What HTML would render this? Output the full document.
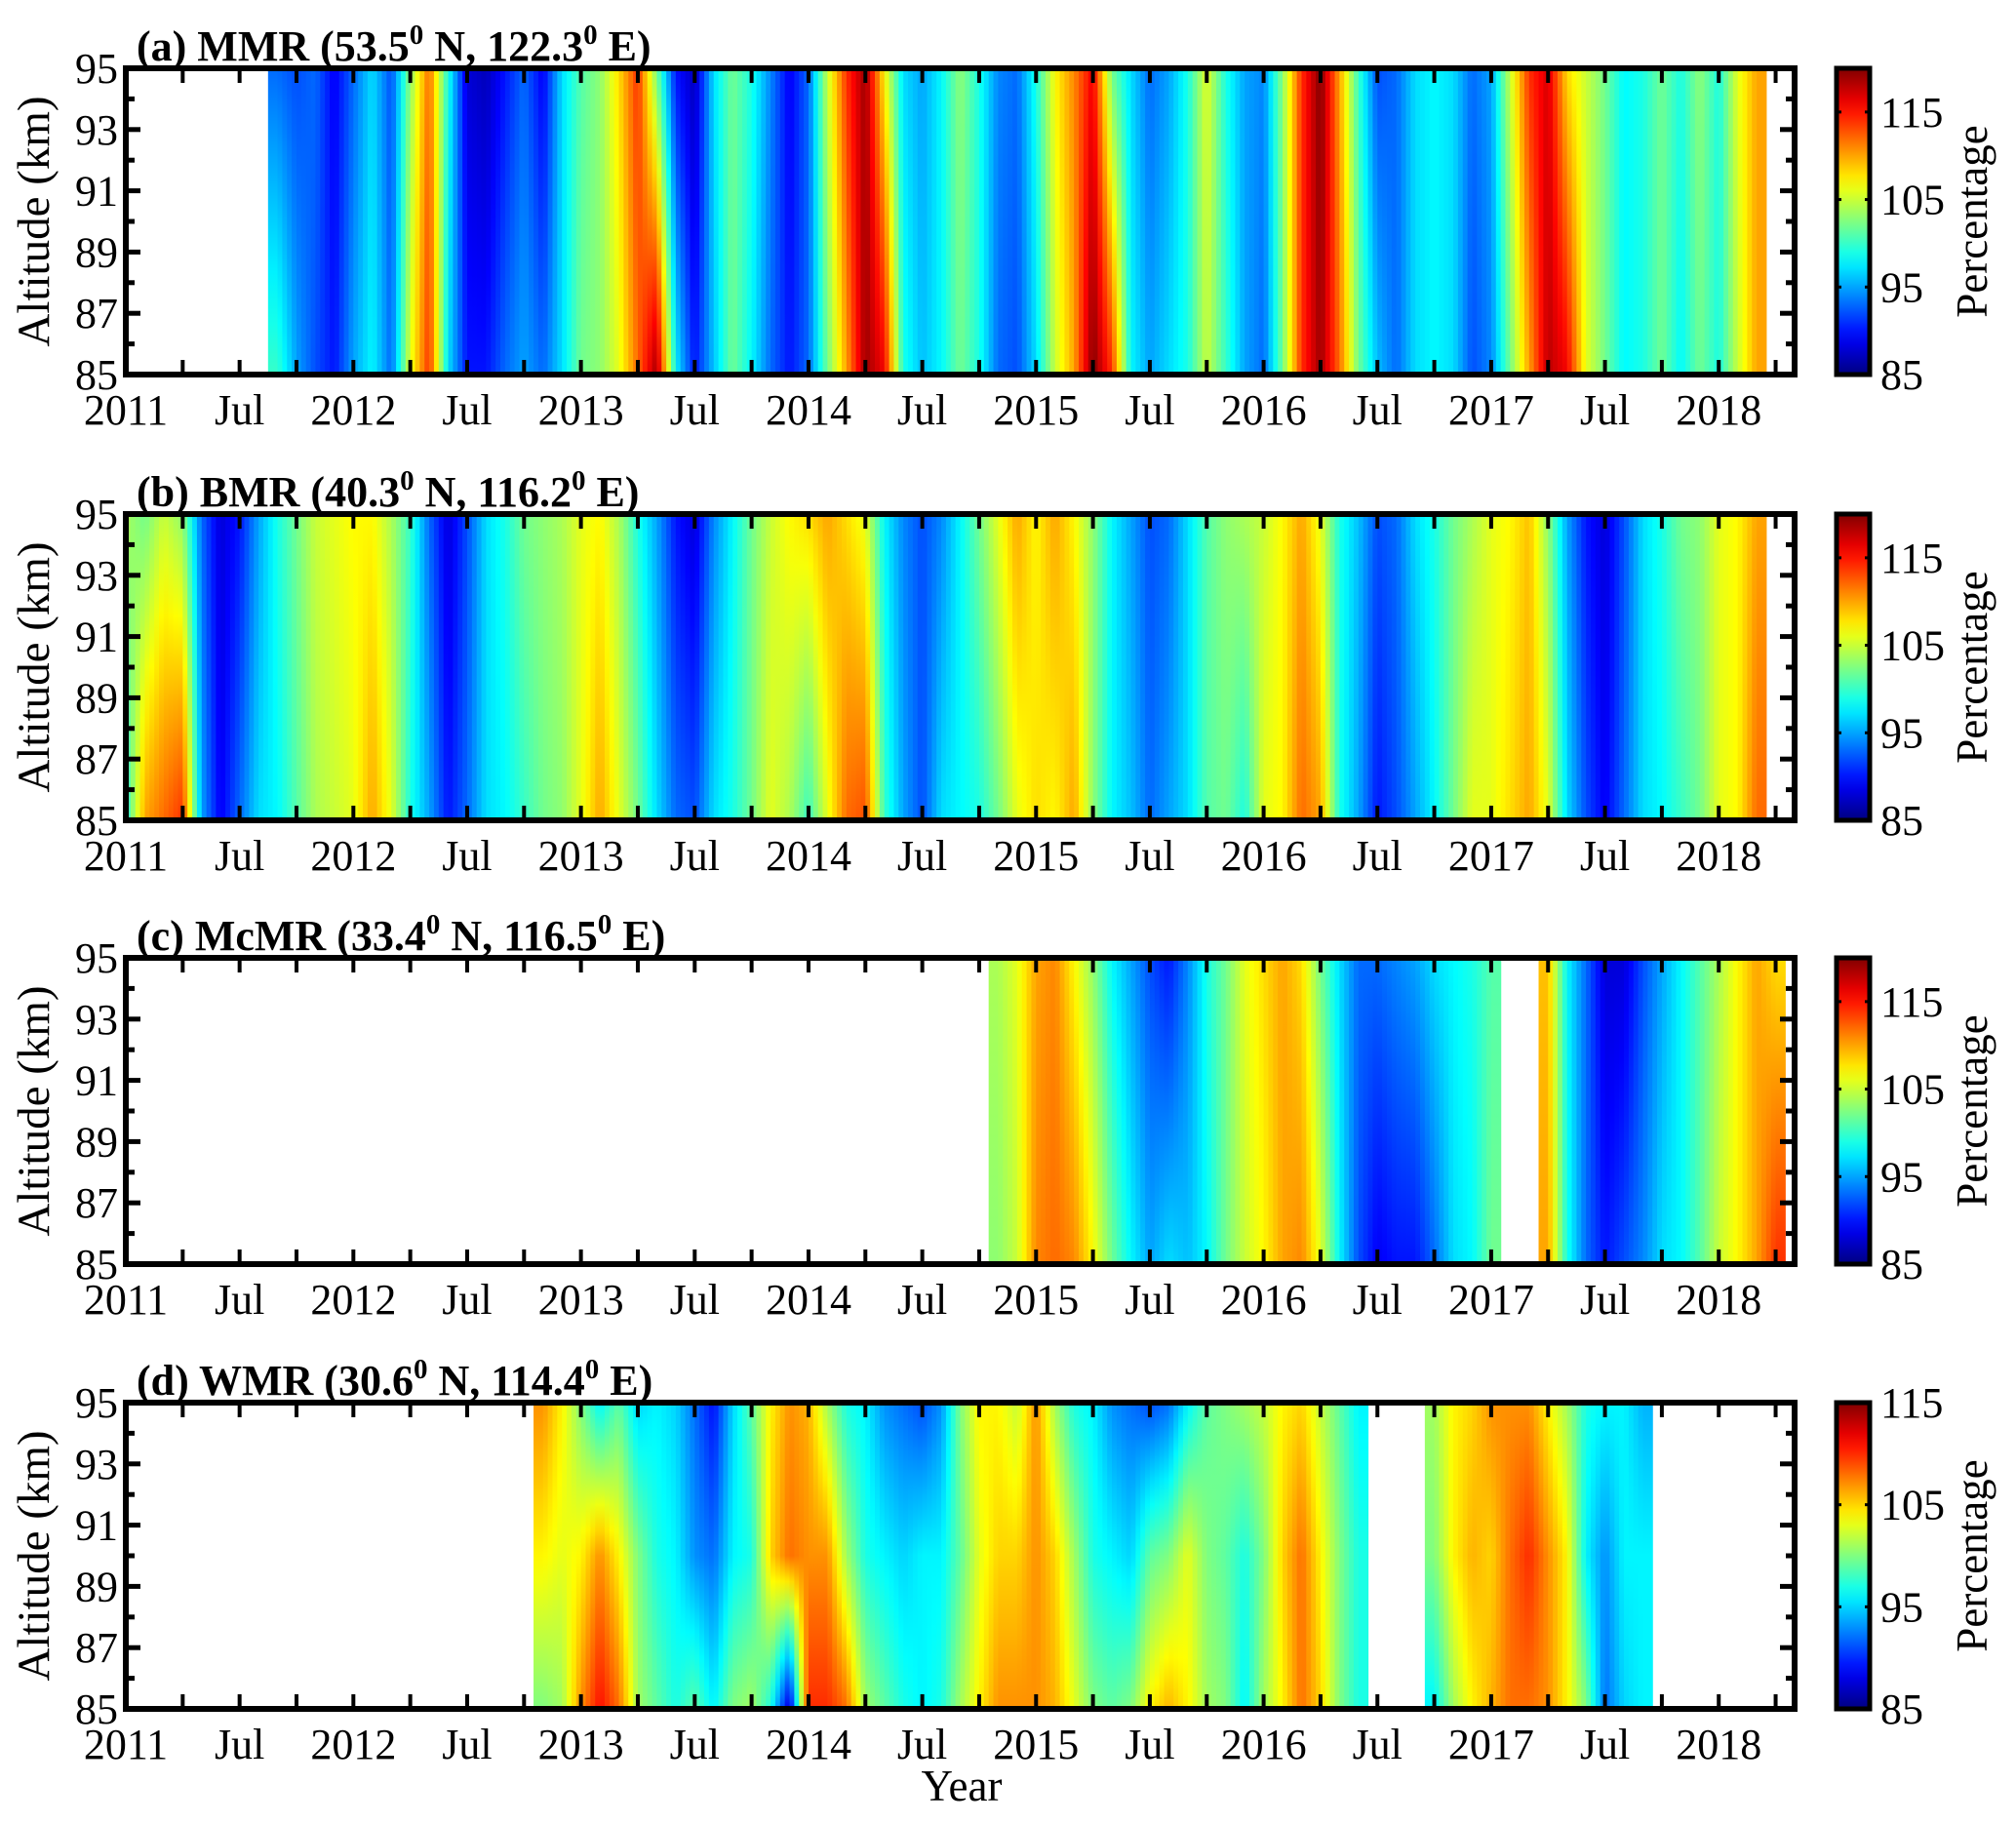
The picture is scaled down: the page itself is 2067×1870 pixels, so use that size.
<!DOCTYPE html>
<html><head><meta charset="utf-8"><style>
html,body{margin:0;padding:0;background:#fff}
svg{display:block}
text{font-family:"Liberation Serif",serif;fill:#000}
</style></head><body>
<svg id="fig" width="2067" height="1870" viewBox="0 0 2067 1870" xmlns="http://www.w3.org/2000/svg">
<defs id="defs"></defs>
<g id="root"></g>
<text x="986" y="1846" font-size="45" text-anchor="middle">Year</text>
</svg>
<script>
// ---- data: monthly samples (index 0 = Jan 2011), values in percentage ----
const months = Array.from({length: 89}, (_, i) => i);
const yearLabels = ["2011","Jul","2012","Jul","2013","Jul","2014","Jul","2015","Jul","2016","Jul","2017","Jul","2018"];
const altTicks = [85, 87, 89, 91, 93, 95];
const cbTicksA = [85, 95, 105, 115];
const cbTicksD = [85, 95, 105, 115];
const titles = ["(a) MMR (53.5", "(b) BMR (40.3", "(c) McMR (33.4", "(d) WMR (30.6"];
const titleLon = [" N, 122.3", " N, 116.2", " N, 116.5", " N, 114.4"];

const a95 = {8:93,9:92,10:93,11:89,12:93,13:97,14:92,15:103,16:112,17:99,18:88,19:87,20:90,21:93,22:89,23:97,24:101,25:103,26:108,27:114,28:102,29:90,30:87,31:97,32:102,33:99,34:94,35:89,36:93,37:105,38:114,39:119,40:107,41:97,42:95,43:98,44:103,45:99,46:94,47:93,48:99,49:107,50:111,51:116,52:102,53:97,54:93,55:95,56:99,57:106,58:99,59:95,60:94,61:103,62:114,63:120,64:110,65:100,66:92,67:93,68:97,69:98,70:97,71:93,72:95,73:105,74:114,75:117,76:108,77:105,78:102,79:98,80:99,81:102,82:99,83:103,84:99,85:106,86:110};
const a85 = {8:100,9:95,10:92,11:90,12:95,13:98,14:93,15:106,16:114,17:97,18:90,19:90,20:93,21:95,22:93,23:97,24:102,25:103,26:106,27:112,28:119,29:98,30:90,31:96,32:102,33:98,34:93,35:90,36:93,37:102,38:110,39:119,40:116,41:99,42:96,43:98,44:102,45:99,46:93,47:92,48:97,49:105,50:110,51:120,52:114,53:98,54:95,55:97,56:99,57:105,58:100,59:95,60:93,61:102,62:114,63:119,64:112,65:102,66:96,67:93,68:97,69:98,70:97,71:92,72:94,73:102,74:110,75:118,76:116,77:106,78:102,79:98,80:99,81:102,82:98,83:102,84:99,85:105,86:110};

const b95 = [104,102,105,103,93,88,90,95,99,102,105,106,107,107,104,100,93,88,92,97,99,102,103,104,106,107,104,99,95,90,88,94,98,102,105,107,108,110,108,106,98,94,92,94,98,102,106,110,107,110,107,103,98,95,92,93,97,101,103,104,105,107,110,106,99,96,92,93,97,99,102,104,106,107,109,103,95,90,88,92,97,99,102,103,106,107,110];
const b85 = [99,110,112,114,95,89,93,97,98,101,104,105,106,110,106,99,95,90,93,97,98,100,102,103,106,110,106,102,97,93,92,97,99,102,106,104,100,106,112,113,100,95,92,97,98,99,102,106,108,107,110,103,98,96,93,95,97,101,102,99,106,107,112,110,99,95,90,92,95,98,102,106,106,108,110,106,97,92,89,93,97,98,100,102,106,107,112];

const c95 = {46:104,47:106,48:110,49:111,50:107,51:103,52:98,53:95,54:92,55:90,56:94,57:99,58:102,59:106,60:108,61:110,62:108,63:102,64:97,65:93,66:93,67:94,68:95,69:97,70:98,71:99,72:101,75:109,76:98,77:93,78:88,79:88,80:92,81:95,82:98,83:101,84:104,85:107,86:110,87:108};
const c85 = {46:103,47:105,48:111,49:112,50:111,51:107,52:102,53:98,54:95,55:97,56:96,57:98,58:102,59:105,60:107,61:110,62:111,63:106,64:98,65:92,66:89,67:90,68:90,69:93,70:97,71:98,72:102,75:110,76:99,77:93,78:90,79:92,80:94,81:97,82:98,83:101,84:105,85:107,86:110,87:114};

const d95 = {22:107,23:104,24:100,25:96,26:99,27:95,28:96,29:95,30:92,31:89,32:95,33:99,34:104,35:107,36:106,37:101,38:97,39:96,40:93,41:92,42:91,43:93,44:100,45:104,46:104,47:102,48:107,49:101,50:97,51:96,52:93,53:92,54:91,55:92,56:96,57:99,58:100,59:101,60:102,61:104,62:105,63:102,64:99,65:96,69:101,70:104,71:105,72:107,73:107,74:107,75:104,76:101,77:97,78:96,79:96,80:94};
const d90 = {22:104,23:103,24:104,25:107,26:104,27:100,28:97,29:96,30:93,31:92,32:96,33:97,34:105,35:108,36:107,37:107,38:101,39:97,40:96,41:95,42:96,43:96,44:99,45:103,46:105,47:105,48:107,49:105,50:101,51:97,52:96,53:95,54:99,55:100,56:103,57:100,58:99,59:97,60:100,61:105,62:108,63:104,64:100,65:97,69:100,70:104,71:106,72:105,73:108,74:110,75:107,76:104,77:96,78:93,79:96,80:96};
const d85 = {22:100,23:101,24:107,25:111,26:108,27:101,28:99,29:97,30:99,31:96,32:100,33:101,34:97,35:87,36:110,37:110,38:108,39:101,40:99,41:97,42:96,43:97,44:101,45:104,46:107,47:107,48:107,49:106,50:103,51:100,52:99,53:100,54:104,55:106,56:104,57:101,58:100,59:96,60:101,61:104,62:108,63:105,64:100,65:97,69:96,70:101,71:104,72:106,73:108,74:108,75:107,76:104,77:100,78:92,79:95,80:96};

const panels = [
  {levels:[85,95], series:[a85,a95], cmin:85, cmax:120, cbTicks:cbTicksA, name:"mmr"},
  {levels:[85,95], series:[b85,b95], cmin:85, cmax:120, cbTicks:cbTicksA, name:"bmr"},
  {levels:[85,95], series:[c85,c95], cmin:85, cmax:120, cbTicks:cbTicksA, name:"mcmr"},
  {levels:[85,90,95], series:[d85,d90,d95], cmin:85, cmax:115, cbTicks:cbTicksD, name:"wmr"}
];

// ---- layout ----
const NS = "http://www.w3.org/2000/svg";
const L = 129, R = 1840, T0 = 2011, T1 = 2018 + 4/12;
const tops = [70, 527, 982, 1438], H = 314;
const CBX = 1883, CBW = 34;
const xs = t => L + (t - T0) / (T1 - T0) * (R - L);
const xm = m => xs(T0 + m / 12);
function el(tag, attrs, parent){ const e = document.createElementNS(NS, tag); for (const k in attrs) e.setAttribute(k, attrs[k]); parent.appendChild(e); return e; }
function jet(v){ const c = x => Math.round(255 * Math.max(0, Math.min(1, x)));
  return `rgb(${c(1.5 - Math.abs(4*v - 3))},${c(1.5 - Math.abs(4*v - 2))},${c(1.5 - Math.abs(4*v - 1))})`; }
function get(s, m){ return (s[m] === undefined ? null : s[m]); }

const root = document.getElementById("root");
const defs = document.getElementById("defs");
let gid = 0;

panels.forEach((p, pi) => {
  const top = tops[pi], bot = top + H;
  const ys = a => bot - (a - 85) / 10 * H;
  const g = el("g", {}, root);
  
  
  const clip = el("clipPath", {id: "clip" + pi}, defs);
  el("rect", {x: L, y: top, width: R - L, height: H}, clip);
  const hm = el("g", {"clip-path": `url(#clip${pi})`}, g);
  
  
  const norm = v => (v - p.cmin) / (p.cmax - p.cmin);
  function column(x0, x1, vals){
    const id = "gr" + (gid++);
    const lg = el("linearGradient", {id, x1: 0, y1: 1, x2: 0, y2: 0}, defs);
    for (let k = 0; k < vals.length - 1; k++) {
      for (let s = 0; s < 6; s++) {
        const f = s / 6, v = vals[k] + (vals[k+1] - vals[k]) * f;
        el("stop", {offset: (k + f) / (vals.length - 1), "stop-color": jet(norm(v))}, lg);
      }
    }
    el("stop", {offset: 1, "stop-color": jet(norm(vals[vals.length-1]))}, lg);
    const r = el("rect", {x: x0, y: top, width: x1 - x0 + 0.6, height: H, fill: `url(#${id})`}, hm);
    
    
  }
  const valsAt = m => p.series.map(s => get(s, m));
  const ok = m => m >= 0 && m < months.length && valsAt(m).every(v => v !== null);
  months.forEach(m => {
    if (!ok(m)) return;
    const v0 = valsAt(m);
    if (!ok(m - 1)) column(xm(m - 0.5), xm(m), v0);
    if (ok(m + 1)) {
      const v1 = valsAt(m + 1), N = 4;
      for (let k = 0; k < N; k++) {
        const f = (k + 0.5) / N;
        column(xm(m + k / N), xm(m + (k + 1) / N), v0.map((v, j) => v + (v1[j] - v) * f));
      }
    } else column(xm(m), xm(m + 0.5), v0);
  });
  const box = el("rect", {x: L, y: top, width: R - L, height: H, fill: "none", stroke: "#000", "stroke-width": 6}, g);
  
  
  for (let q = 0; q * 3 <= 88; q++) {
    const x = xm(q * 3);
    el("line", {x1: x, x2: x, y1: top, y2: top + 15, stroke: "#000", "stroke-width": 4}, g);
    el("line", {x1: x, x2: x, y1: bot, y2: bot - 15, stroke: "#000", "stroke-width": 4}, g);
  }
  yearLabels.forEach((lab, i) => {
    const t = el("text", {x: xm(i * 6), y: bot + 51, "font-size": 44, "text-anchor": "middle"}, g);
    t.textContent = lab;
    
    
  });
  for (let a = 85; a <= 95; a++) {
    const y = ys(a), len = (a % 2 === 1) ? 15 : 9;
    el("line", {x1: L, x2: L + len, y1: y, y2: y, stroke: "#000", "stroke-width": 5}, g);
    el("line", {x1: R, x2: R - len, y1: y, y2: y, stroke: "#000", "stroke-width": 5}, g);
  }
  altTicks.forEach(a => {
    const t = el("text", {x: L - 8, y: ys(a) + 15, "font-size": 44, "text-anchor": "end"}, g);
    t.textContent = a;
    
    
  });
  const yl = el("text", {x: 0, y: 0, "font-size": 47, "text-anchor": "middle", transform: `translate(50 ${top + H/2}) rotate(-90)`}, g);
  yl.textContent = "Altitude (km)";
  
  
  const tt = el("text", {x: 140, y: top - 8, "font-size": 44, "font-weight": "bold"}, g);
  
  
  tt.appendChild(document.createTextNode(titles[pi]));
  const s1 = el("tspan", {dy: -17, "font-size": 29}, tt); s1.textContent = "0";
  const s2 = el("tspan", {dy: 17}, tt); s2.textContent = titleLon[pi];
  const s3 = el("tspan", {dy: -17, "font-size": 29}, tt); s3.textContent = "0";
  const s4 = el("tspan", {dy: 17}, tt); s4.textContent = " E)";
  const cid = "cb" + pi;
  const cg = el("linearGradient", {id: cid, x1: 0, y1: 1, x2: 0, y2: 0}, defs);
  for (let k = 0; k <= 20; k++) el("stop", {offset: k / 20, "stop-color": jet(k / 20)}, cg);
  const cb = el("rect", {x: CBX, y: top, width: CBW, height: H, fill: `url(#${cid})`, stroke: "#000", "stroke-width": 5}, g);
  
  
  p.cbTicks.forEach(v => {
    const y = bot - (v - p.cmin) / (p.cmax - p.cmin) * H;
    el("line", {x1: CBX, x2: CBX + 5, y1: y, y2: y, stroke: "#000", "stroke-width": 3}, g);
    el("line", {x1: CBX + CBW, x2: CBX + CBW - 5, y1: y, y2: y, stroke: "#000", "stroke-width": 3}, g);
    const t = el("text", {x: CBX + 45, y: y + 15, "font-size": 44}, g);
    t.textContent = v;
    
    
  });
  const pl = el("text", {x: 0, y: 0, "font-size": 45, "text-anchor": "middle", transform: `translate(2037 ${top + H/2}) rotate(-90)`}, g);
  pl.textContent = "Percentage";
  
  
});
</script>
</body></html>
